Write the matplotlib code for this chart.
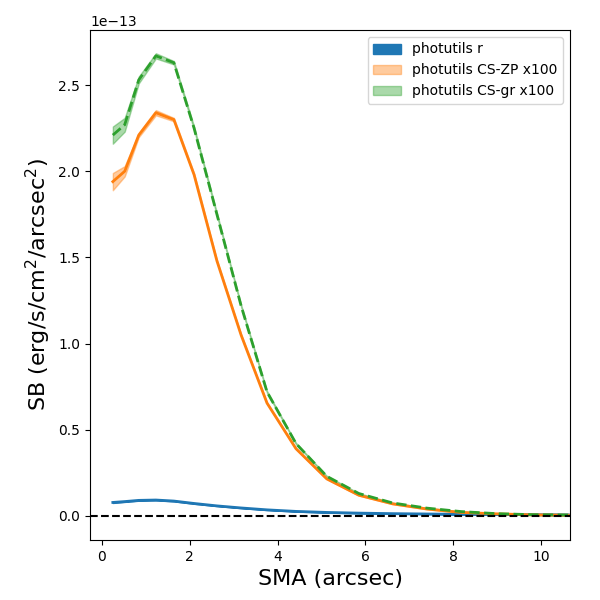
import numpy as np
import matplotlib
matplotlib.use('Agg')
import matplotlib.pyplot as plt

# SMA sampling (arcsec) and surface brightness profiles (erg/s/cm^2/arcsec^2)
sma = [0.25, 0.52, 0.84, 1.23, 1.64, 2.10, 2.62, 3.17, 3.76, 4.42, 5.12, 5.85,
       6.62, 7.40, 8.18, 8.98, 9.80, 10.62]

sb_r = [0.078, 0.083, 0.090, 0.092, 0.086, 0.072, 0.058, 0.046, 0.035, 0.026,
        0.020, 0.016, 0.013, 0.011, 0.009, 0.008, 0.007, 0.006]
sb_r_err = [0.003, 0.002, 0.002, 0.002, 0.002, 0.002, 0.001, 0.001, 0.001, 0.001,
            0.001, 0.001, 0.001, 0.001, 0.001, 0.001, 0.001, 0.001]

sb_zp = [1.94, 2.00, 2.21, 2.34, 2.30, 1.98, 1.48, 1.05, 0.655, 0.39, 0.215, 0.12,
         0.07, 0.04, 0.02, 0.012, 0.006, 0.004]
sb_zp_err = [0.05, 0.03, 0.012, 0.015, 0.01, 0.008, 0.006, 0.005, 0.004, 0.003,
             0.002, 0.002, 0.002, 0.002, 0.002, 0.002, 0.002, 0.002]

sb_gr = [2.21, 2.27, 2.53, 2.67, 2.63, 2.25, 1.75, 1.22, 0.72, 0.42, 0.23, 0.13,
         0.075, 0.045, 0.025, 0.013, 0.007, 0.005]
sb_gr_err = [0.05, 0.04, 0.02, 0.015, 0.01, 0.01, 0.008, 0.006, 0.005, 0.004,
             0.003, 0.002, 0.002, 0.002, 0.002, 0.002, 0.002, 0.002]

scale = 1e-13
x = np.array(sma)
r, r_e = np.array(sb_r) * scale, np.array(sb_r_err) * scale
zp, zp_e = np.array(sb_zp) * scale, np.array(sb_zp_err) * scale
gr, gr_e = np.array(sb_gr) * scale, np.array(sb_gr_err) * scale

fig = plt.figure(figsize=(6, 6), dpi=100)
ax = fig.add_axes([0.15, 0.10, 0.80, 0.85])

ax.fill_between(x, r - r_e, r + r_e, color='C0', alpha=1.0, label='photutils r')
ax.fill_between(x, zp - zp_e, zp + zp_e, color='C1', alpha=0.4, label='photutils CS-ZP x100')
ax.fill_between(x, gr - gr_e, gr + gr_e, color='C2', alpha=0.4, label='photutils CS-gr x100')

ax.plot(x, r, color='C0', lw=2)
ax.plot(x, zp, color='C1', lw=2)
ax.plot(x, gr, color='C2', lw=2, ls='--')

ax.axhline(0, color='k', ls='--', lw=1.5)

ax.set_xlim(-0.27, 10.66)
ax.set_ylim(-0.14e-13, 2.82e-13)
ax.set_xlabel('SMA (arcsec)', fontsize=16)
ax.set_ylabel(r'SB (erg/s/cm$^2$/arcsec$^2$)', fontsize=16)
ax.legend(loc='upper right')

fig.savefig('out.png', dpi=100)
